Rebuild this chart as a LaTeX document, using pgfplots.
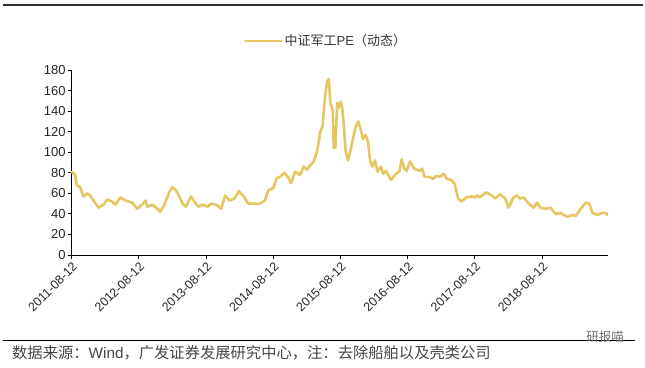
\documentclass[border=0pt]{standalone}
\usepackage{pgfplots}
\pgfplotsset{compat=1.18}
\usepackage{fontspec}
\setmainfont{Liberation Sans}
\newfontfamily\cjk{Noto Sans CJK SC}
\definecolor{peline}{RGB}{230,198,98}
\definecolor{srcgray}{RGB}{70,70,70}
\begin{document}
\begin{tikzpicture}[x=1bp,y=1bp]
\path[use as bounding box] (0,0) rectangle (645,367);
\draw[line width=2bp, color=black!80] (3,362.3) -- (643,362.3);
\draw[line width=1.2bp, color=black] (3,26.5) -- (635,26.5);
\node[anchor=west, inner sep=0pt, text=srcgray, font=\fontsize{15.3bp}{17bp}\selectfont] at (12,14) {{\cjk 数据来源：}Wind{\cjk ，广发证券发展研究中心，注：去除船舶以及壳类公司}};
\node[anchor=center, inner sep=0pt, text=black!55, font=\fontsize{12.5bp}{14bp}\selectfont\cjk] at (605,30) {研报喵};
\begin{axis}[
  at={(71.7bp,112bp)}, anchor=south west,
  scale only axis, width=535.9bp, height=185bp,
  xmin=0, xmax=7.975, ymin=0, ymax=180,
  axis x line*=bottom, axis y line*=left,
  axis line style={line width=0.9bp, black},
  xtick={0,1,2,3,4,5,6,7},
  xticklabels={2011-08-12,2012-08-12,2013-08-12,2014-08-12,2015-08-12,2016-08-12,2017-08-12,2018-08-12},
  ytick={0,20,40,60,80,100,120,140,160,180},
  tick align=outside, major tick length=4bp,
  tick style={line width=0.9bp, black},
  /pgf/number format/assume math mode=true,
  x tick label style={rotate=45, anchor=north east, font=\fontsize{12.5bp}{14bp}\selectfont, text=black!85, inner sep=1.5bp},
  y tick label style={font=\fontsize{13bp}{15bp}\selectfont, text=black!85, inner sep=2bp},
  legend style={at={(0.4745,1.157)}, anchor=center, draw=none, fill=none, font=\fontsize{13bp}{15bp}\selectfont, text=black!80},
  legend image code/.code={\draw[line width=2.8bp, peline] (0bp,0bp) -- (36bp,0bp);},
  clip=false,
]
\addplot[peline, line width=2.6bp, line join=round, line cap=round] coordinates {
(0,81) (0.05,78) (0.075,68) (0.125,66) (0.175,57) (0.225,60) (0.275,58) (0.325,53) (0.4,46) (0.475,49)
(0.525,54) (0.6,52) (0.65,49) (0.725,56) (0.8,53) (0.9,51) (0.975,45) (1.05,49) (1.1,53) (1.125,47)
(1.2,49) (1.275,45) (1.315,42) (1.375,48) (1.45,61) (1.5,66) (1.55,63) (1.6,57) (1.65,50) (1.7,47)
(1.775,57) (1.825,52) (1.885,47) (1.95,49) (2.025,47) (2.075,50) (2.15,49) (2.225,45) (2.285,58) (2.35,53)
(2.425,55) (2.485,62) (2.55,58) (2.625,50) (2.7,50) (2.8,50) (2.875,53) (2.925,63) (3.0,65) (3.05,75)
(3.1,76) (3.165,80) (3.225,75) (3.265,70) (3.325,81) (3.4,78) (3.45,86) (3.5,83) (3.55,87) (3.6,91)
(3.65,100) (3.7,120) (3.735,126) (3.765,151) (3.8,169) (3.825,171) (3.85,148) (3.885,141) (3.9,104) (3.925,105)
(3.95,148) (3.975,143) (4.0,149) (4.025,144) (4.05,126) (4.075,102) (4.11,92) (4.15,102) (4.185,113) (4.225,125)
(4.265,130) (4.3,122) (4.335,113) (4.375,117) (4.41,110) (4.44,92) (4.475,86) (4.515,92) (4.55,81) (4.6,86)
(4.635,79) (4.675,82) (4.75,73) (4.825,79) (4.875,81) (4.91,93) (4.95,84) (4.985,82) (5.035,91) (5.1,84)
(5.175,82) (5.215,84) (5.25,76) (5.325,76) (5.375,74) (5.425,77) (5.475,76) (5.535,79) (5.585,74) (5.65,73)
(5.7,69) (5.75,55) (5.8,52) (5.875,56) (5.95,57) (6.0,56) (6.035,58) (6.075,56) (6.165,61) (6.25,58)
(6.3,55) (6.375,59) (6.45,55) (6.5,46) (6.575,56) (6.625,58) (6.665,55) (6.725,56) (6.8,50) (6.875,46)
(6.925,51) (6.975,46) (7.05,45) (7.125,46) (7.2,40) (7.275,41) (7.375,37) (7.45,39) (7.5,38) (7.575,45)
(7.65,51) (7.7,50) (7.75,41) (7.825,39) (7.9,41) (7.95,41) (7.97,39)
};
\addlegendentry{{\cjk 中证军工}PE{\cjk （动态）}}
\end{axis}
\end{tikzpicture}
\end{document}
